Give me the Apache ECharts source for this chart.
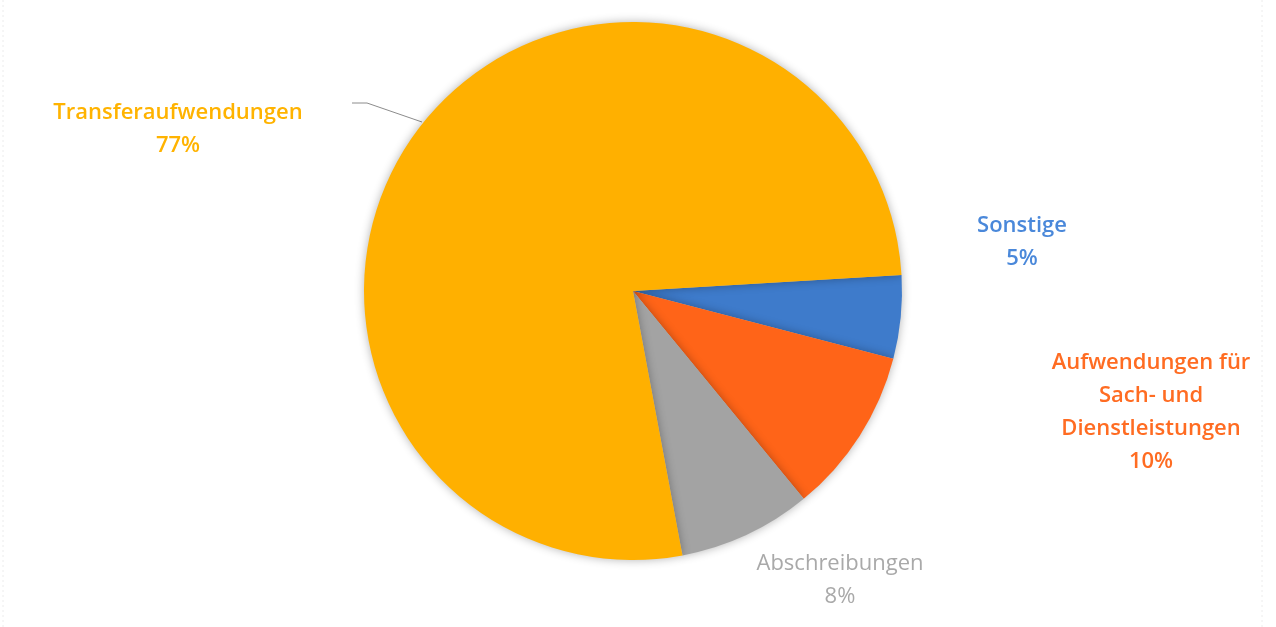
<!DOCTYPE html>
<html>
<head>
<meta charset="utf-8">
<title>Aufwendungen</title>
<script src="https://cdn.jsdelivr.net/npm/echarts@6/dist/echarts.min.js"></script>
<style>
  html, body { margin: 0; padding: 0; background: #ffffff; }
  #chart { width: 1276px; height: 627px; }
</style>
</head>
<body>
<div id="chart"></div>
<script>
// Expense shares (percent), listed clockwise starting just above 3 o'clock
const categories = ['Sonstige', 'Aufwendungen für\nSach- und\nDienstleistungen', 'Abschreibungen', 'Transferaufwendungen'];
const shares = [5, 10, 8, 77];

const sliceColors = ['#3E7BCB', '#FF6418', '#A3A3A3', '#FFB000'];
const labelColors = ['#4A88DA', '#FF6C22', '#A9A9A9', '#FFB300'];

// label anchor points (centre of each text block) in pixels
const labelPos = [
  { x: 1022, y: 242 },
  { x: 1151, y: 412 },
  { x: 840, y: 580 },
  { x: 178, y: 129 }
];

const chart = echarts.init(document.getElementById('chart'), null, { renderer: 'canvas' });

const data = categories.map((name, i) => ({
  name: name,
  value: shares[i],
  itemStyle: { color: sliceColors[i] },
  label: {
    color: labelColors[i],
    fontWeight: i === 2 ? 500 : 600
  },
  labelLine: { show: i === 3 }
}));

chart.setOption({
  backgroundColor: '#ffffff',
  animation: false,
  graphic: [
    { type: 'line', shape: { x1: 3, y1: 0, x2: 3, y2: 627 },
      style: { stroke: '#ececec', lineWidth: 1, lineDash: [2, 3] } },
    { type: 'line', shape: { x1: 1262, y1: 0, x2: 1262, y2: 627 },
      style: { stroke: '#ececec', lineWidth: 1, lineDash: [2, 3] } }
  ],
  series: [{
    type: 'pie',
    center: [633, 291],
    radius: [0, 269],
    startAngle: 3.4,
    clockwise: true,
    avoidLabelOverlap: false,
    itemStyle: {
      borderWidth: 0,
      shadowBlur: 10,
      shadowColor: 'rgba(0,0,0,0.3)'
    },
    label: {
      show: true,
      formatter: p => p.name + '\n' + p.value + '%',
      fontFamily: 'Open Sans',
      fontSize: 22,
      lineHeight: 33,
      align: 'center'
    },
    labelLine: {
      show: true,
      lineStyle: { color: '#8c8c8c', width: 1 }
    },
    labelLayout: function (params) {
      const p = labelPos[params.dataIndex];
      const out = { x: p.x, y: p.y, align: 'center', verticalAlign: 'middle' };
      if (params.dataIndex === 3) {
        out.labelLinePoints = [[422, 122], [367, 103], [352, 103]];
      }
      return out;
    },
    data: data
  }]
});
</script>
</body>
</html>
